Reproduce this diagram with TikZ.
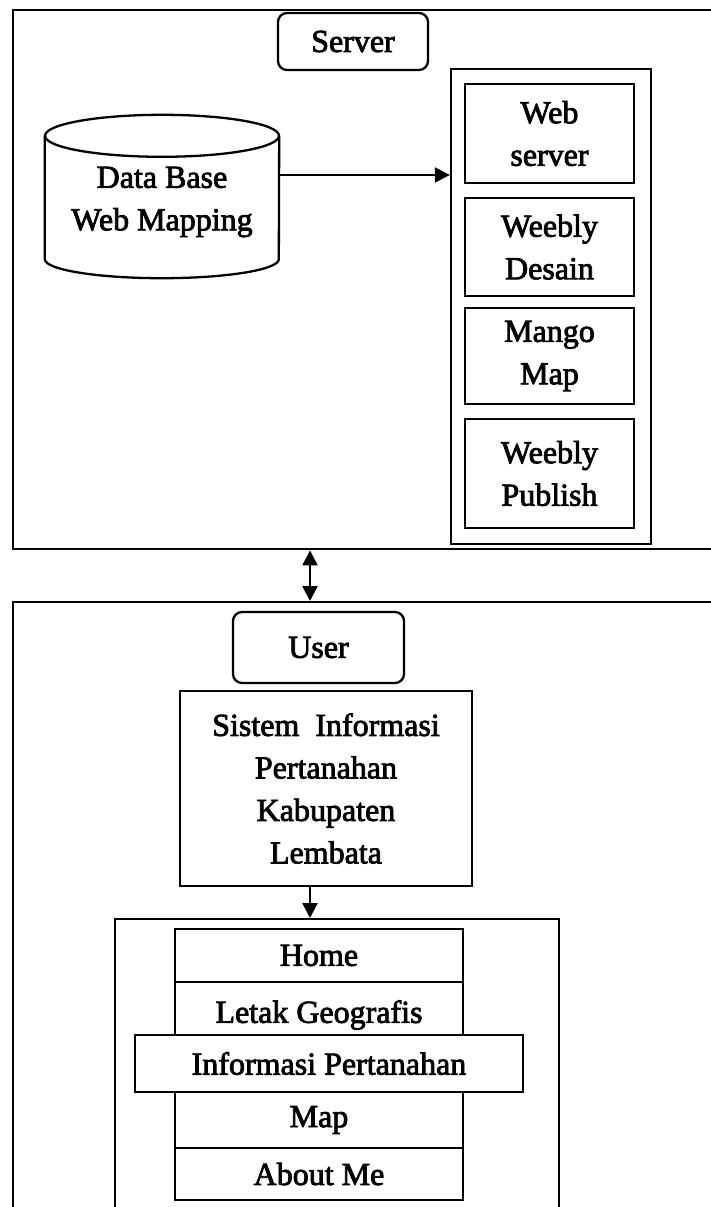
\documentclass[tikz,border=0pt]{standalone}
\usepackage{fontspec}
\setmainfont[UprightFeatures={FakeBold=2.5}]{Liberation Serif}
\usetikzlibrary{arrows.meta}
\begin{document}
\begin{tikzpicture}[x=1pt,y=1pt,
  txt/.style={font=\fontsize{32}{42.5}\selectfont},
  box/.style={draw, line width=2.3pt, inner sep=0pt, align=center, txt},
  rbox/.style={box, rounded corners=9pt},
  panel/.style={draw, line width=2.4pt, inner sep=0pt, anchor=north west},
  tip/.tip={Triangle[length=15pt,width=15pt]},
  arr/.style={line width=2.3pt, -tip},
  darr/.style={line width=2.3pt, tip-tip},
  ln/.style={line width=2.3pt}]
\useasboundingbox (0,0) rectangle (711,-1207);
\clip (0,0) rectangle (711,-1207);
\fill[white] (0,0) rectangle (711,-1207);
% panels
\node[panel, minimum width=760pt, minimum height=539pt] (serverpanel) at (12,-9) {};
\node[panel, minimum width=760pt, minimum height=659pt] (userpanel) at (12,-601) {};
\node[panel, minimum width=444pt, minimum height=342pt] (menu) at (114,-918) {};
% server part
\node[rbox, minimum width=150pt, minimum height=57pt] (server) at (353,-41.5) {Server};
\node[inner sep=0pt, align=center, txt, minimum width=234pt, minimum height=162pt] (db) at (162,-202) {Data Base\\Web Mapping};
\draw[ln] ([yshift=-15pt]db.north west) -- ([yshift=24pt]db.south west)
   arc[start angle=180, end angle=360, x radius=117pt, y radius=19pt]
   -- ([yshift=-15pt]db.north east);
\draw[ln] ([yshift=-15pt]db.north) ellipse [x radius=117pt, y radius=21pt];
\node[box, minimum width=200pt, minimum height=475pt] (column) at (551,-306.5) {};
\node[box, minimum width=169pt, minimum height=99pt] (ws) at (549.5,-133.5) {Web\\server};
\node[box, minimum width=169pt, minimum height=98pt] (wd) at (549.5,-247) {Weebly\\Desain};
\node[box, minimum width=169pt, minimum height=96pt] (mm) at (549.5,-356) {Mango\\Map};
\node[box, minimum width=169pt, minimum height=109pt] (wp) at (549.5,-473.5) {Weebly\\Publish};
\coordinate (ay) at (0,-175);
\draw[arr] (db.east |- ay) -- (column.west |- ay);
% link
\coordinate (ax) at (310,0);
\draw[darr] (serverpanel.south -| ax) -- (userpanel.north -| ax);
% user part
\node[rbox, minimum width=171pt, minimum height=71pt] (user) at (318.5,-647.5) {User};
\node[box, minimum width=292pt, minimum height=195pt] (sis) at (326,-788.5) {Sistem\ \ Informasi\\Pertanahan\\Kabupaten\\Lembata};
\draw[arr] (sis.south -| ax) -- (menu.north -| ax);
\node[box, minimum width=288pt, minimum height=53pt] (home) at (319,-955.5) {Home};
\node[box, minimum width=288pt, minimum height=66pt] (letak) at (319,-1015) {Letak Geografis};
\node[box, minimum width=288pt, minimum height=56pt] (map) at (319,-1120) {Map};
\node[box, minimum width=288pt, minimum height=52pt] (about) at (319,-1174) {About Me};
\node[box, fill=white, minimum width=388pt, minimum height=57pt] (info) at (329,-1063.5) {Informasi Pertanahan};
\end{tikzpicture}
\end{document}
